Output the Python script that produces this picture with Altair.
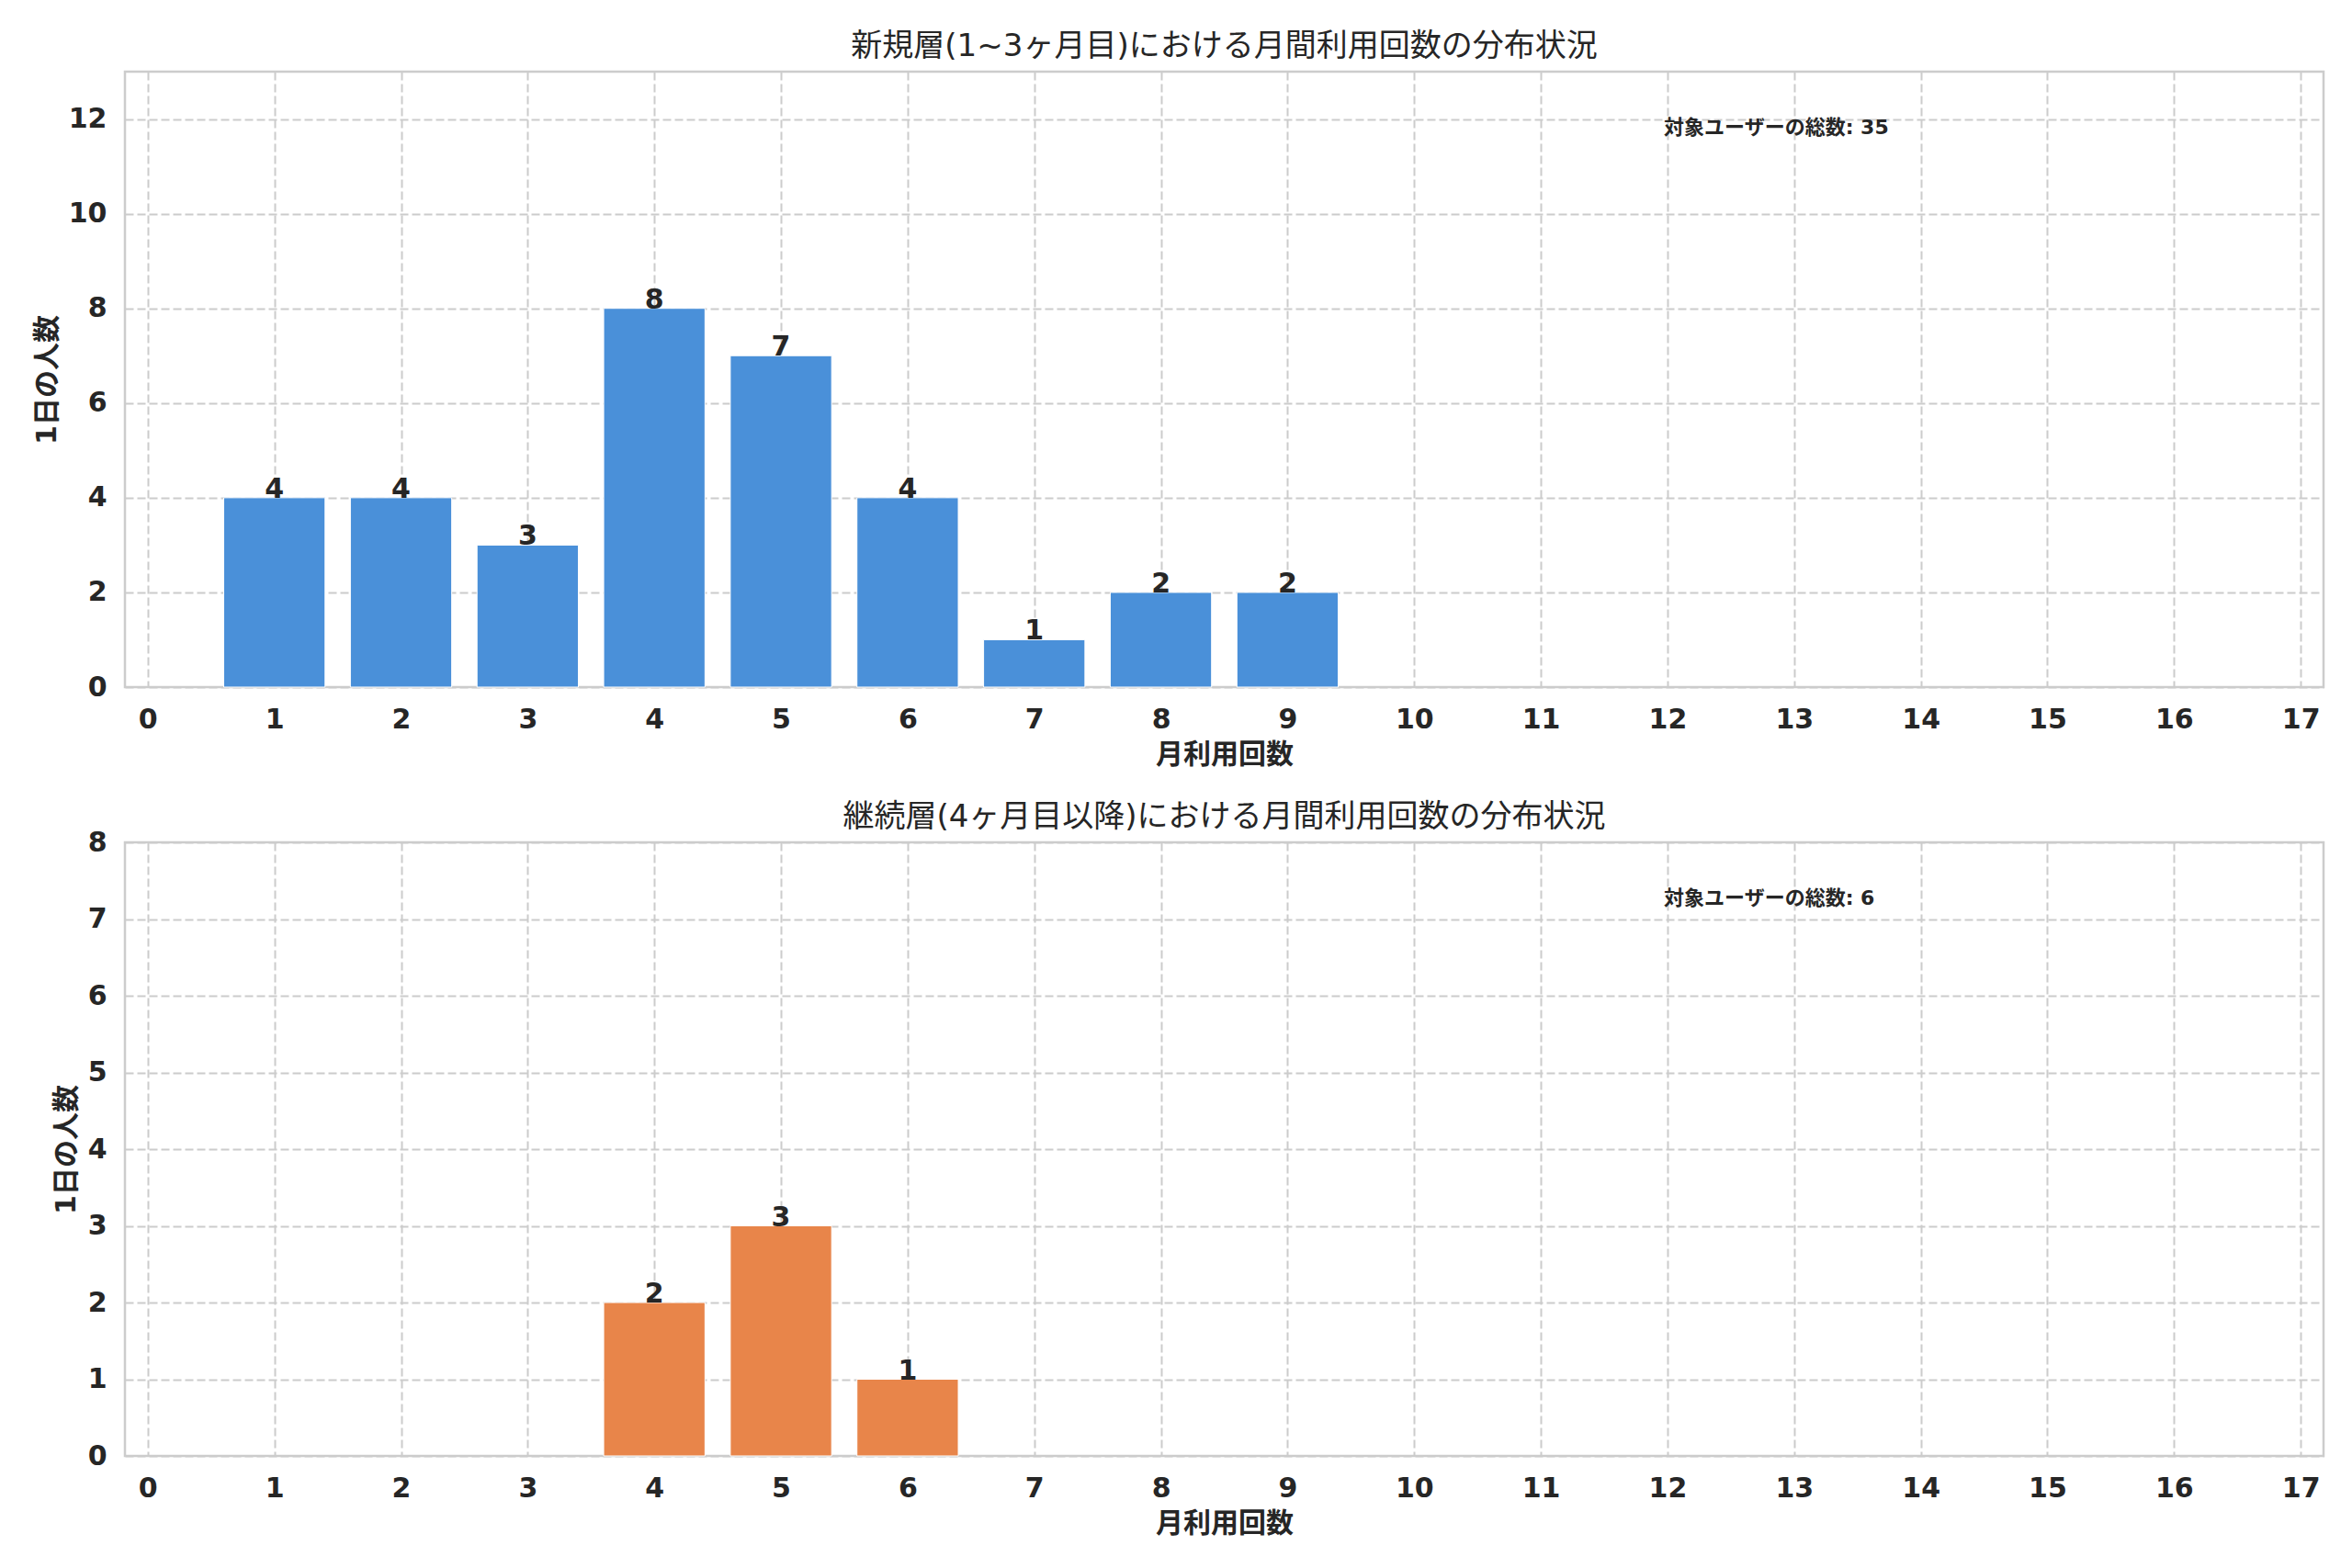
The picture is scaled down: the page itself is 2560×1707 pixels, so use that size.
import altair as alt
import pandas as pd

FONT = "DejaVu Sans, Noto Sans CJK JP, sans-serif"
TEXT = "#262626"

# ---- data ----
x_ticks = list(range(0, 18))
top_x = [1, 2, 3, 4, 5, 6, 7, 8, 9]
top_y = [4, 4, 3, 8, 7, 4, 1, 2, 2]
bot_x = [4, 5, 6]
bot_y = [2, 3, 1]
top_yticks = [0, 2, 4, 6, 8, 10, 12]
bot_yticks = [0, 1, 2, 3, 4, 5, 6, 7, 8]

top_title = "新規層(1~3ヶ月目)における月間利用回数の分布状況"
bot_title = "継続層(4ヶ月目以降)における月間利用回数の分布状況"
x_label = "月利用回数"
y_label = "1日の人数"
note_prefix = "対象ユーザーの総数"

W = 2393


def panel(xs, ys, color, title, ymax, yticks, height, title_offset):
    df = pd.DataFrame({"x": xs, "y": ys})
    xscale = alt.Scale(domain=[-0.18, 17.18], nice=False, zero=False)
    yscale = alt.Scale(domain=[0, ymax], nice=False)
    base = alt.Chart(df).transform_calculate(
        x0="datum.x - 0.4", x1="datum.x + 0.4", y0="0"
    )
    bars = base.mark_bar(color=color, stroke="white", strokeWidth=1).encode(
        x=alt.X(
            "x0:Q",
            scale=xscale,
            axis=alt.Axis(values=x_ticks, title=x_label, format="d"),
        ),
        x2="x1:Q",
        y=alt.Y(
            "y:Q",
            scale=yscale,
            axis=alt.Axis(values=yticks, title=y_label, format="d"),
        ),
        y2="y0:Q",
    )
    labels = base.mark_text(
        baseline="alphabetic",
        align="center",
        fontWeight="bold",
        fontSize=30,
        color=TEXT,
        font=FONT,
    ).encode(
        x=alt.X("x:Q", scale=xscale),
        y=alt.Y("y:Q", scale=yscale),
        text=alt.Text("y:Q", format="d"),
    )
    note_df = pd.DataFrame({"t": [f"{note_prefix}: {sum(ys)}"]})
    note = alt.Chart(note_df).mark_text(
        align="left",
        baseline="middle",
        fontWeight="bold",
        fontSize=22,
        color=TEXT,
        font=FONT,
    ).encode(x=alt.value(0.7 * W), y=alt.value(61), text="t:N")
    return alt.layer(bars, labels, note).properties(
        width=W, height=height, title=alt.TitleParams(title, offset=title_offset)
    )


top = panel(top_x, top_y, "#4A90D9", top_title, 13, top_yticks, 670, 10)
bot = panel(bot_x, bot_y, "#E8854A", bot_title, 8, bot_yticks, 668, -5)

chart = (
    alt.vconcat(top, bot, spacing=33)
    .properties(padding={"left": 27, "top": 24, "right": 20, "bottom": 20})
    .configure(font=FONT, background="white")
    .configure_view(stroke="#cccccc", strokeWidth=2.5)
    .configure_axis(
        labelFont=FONT,
        labelFontSize=30,
        labelFontWeight="bold",
        labelColor=TEXT,
        labelPadding=20,
        labelFlush=False,
        labelOverlap=False,
        ticks=False,
        domain=False,
        grid=True,
        gridColor="#cccccc",
        gridDash=[9, 4],
        gridWidth=2,
        titleFont=FONT,
        titleFontSize=30,
        titleFontWeight="bold",
        titleColor=TEXT,
        titlePadding=8,
    )
    .configure_title(
        font=FONT,
        fontSize=34,
        fontWeight="normal",
        color=TEXT,
        anchor="middle",
        baseline="alphabetic",
    )
)

chart.save("out.html", embed_options={"renderer": "svg", "actions": False})
